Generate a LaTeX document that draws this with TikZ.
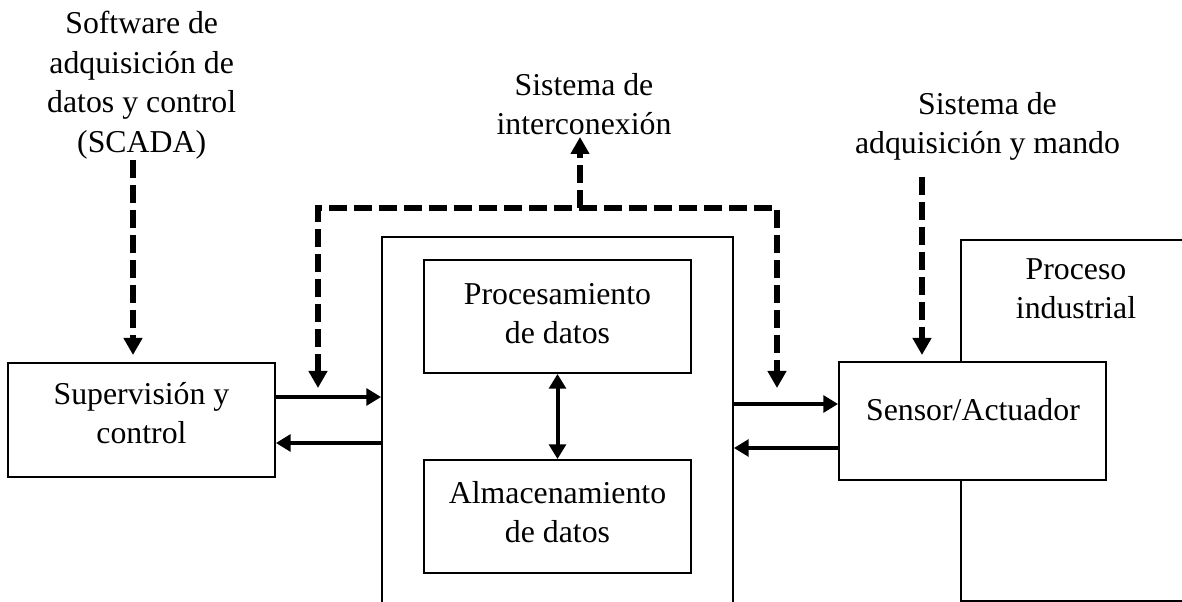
\documentclass[tikz,border=0pt]{standalone}
\usepackage{fontspec}
\setmainfont{Liberation Serif}
\usetikzlibrary{arrows.meta,fit,calc}
\begin{document}
\begin{tikzpicture}[x=0.75pt,y=-0.75pt,
  box/.style={draw,line width=1.4pt,inner sep=0pt},
  lbl/.style={font=\fontsize{23.85}{29.6}\selectfont,align=center,inner sep=0pt,anchor=north},
  stip/.tip={Triangle[length=11pt,width=12.5pt]},
  dtip/.tip={Triangle[length=12.75pt,width=13.5pt]},
  solidarr/.style={line width=3pt,-stip},
  dasharr/.style={line width=4.5pt,dash pattern=on 13.5pt off 5.25pt,-dtip},
]
\useasboundingbox (0,0) rectangle (1182,602);

% boxes
\node[box,fit={(961,240)(1250,601)}] (proc) {};
\node[box,fill=white,fit={(839,362)(1106,480)}] (sens) {};
\node[box,fit={(382,237)(733,640)}] (cent) {};
\node[box,fit={(424,260)(691,373)}] (pdat) {};
\node[box,fit={(424,460)(691,573)}] (adat) {};
\node[box,fit={(8,363)(275,477)}] (sup) {};

% labels
\node[lbl] (scada) at (141.7,11) {Software de\\adquisición de\\datos y control\\(SCADA)};
\node[lbl] (inter) at (584,73) {Sistema de\\interconexión};
\node[lbl] (adq) at (987.5,92) {Sistema de\\adquisición y mando};
\node[lbl] (proclbl) at (1076,258) {Proceso\\industrial};
\node[lbl] (suplbl) at (141.5,382) {Supervisión y\\control};
\node[lbl] (pdatlbl) at (557.5,283) {Procesamiento\\de datos};
\node[lbl] (adatlbl) at (557.5,481) {Almacenamiento\\de datos};
\node[lbl] (senslbl) at (973,398) {Sensor/Actuador};

% helper coordinates
\coordinate (y1) at (0,397);
\coordinate (y2) at (0,443);
\coordinate (y3) at (0,404);
\coordinate (y4) at (0,448);
\coordinate (c1) at (318,208);
\coordinate (c2) at (777,208);
\coordinate (c3) at (580,208);
\coordinate (t1) at (318,388);
\coordinate (t2) at (777,388);
\coordinate (t3) at (580,137);
\coordinate (s1) at (133,160);
\coordinate (s2) at (133,355);
\coordinate (a1) at (922,177);
\coordinate (a2) at (922,355);

% solid arrows
\draw[solidarr] (sup.east |- y1) -- (cent.west |- y1);
\draw[solidarr] (cent.west |- y2) -- (sup.east |- y2);
\draw[solidarr] (cent.east |- y3) -- (sens.west |- y3);
\draw[solidarr] (sens.west |- y4) -- (cent.east |- y4);
\draw[line width=3pt,stip-stip] (pdat.south) -- (adat.north);

% dashed arrows
\draw[dasharr] (s1) -- (s2);
\draw[dasharr] (a1) -- (a2);
\draw[dasharr] (c3) -- (t3);
\draw[dasharr,dtip-dtip] (t1) -- (c1) -- (c2) -- (t2);
\end{tikzpicture}
\end{document}
